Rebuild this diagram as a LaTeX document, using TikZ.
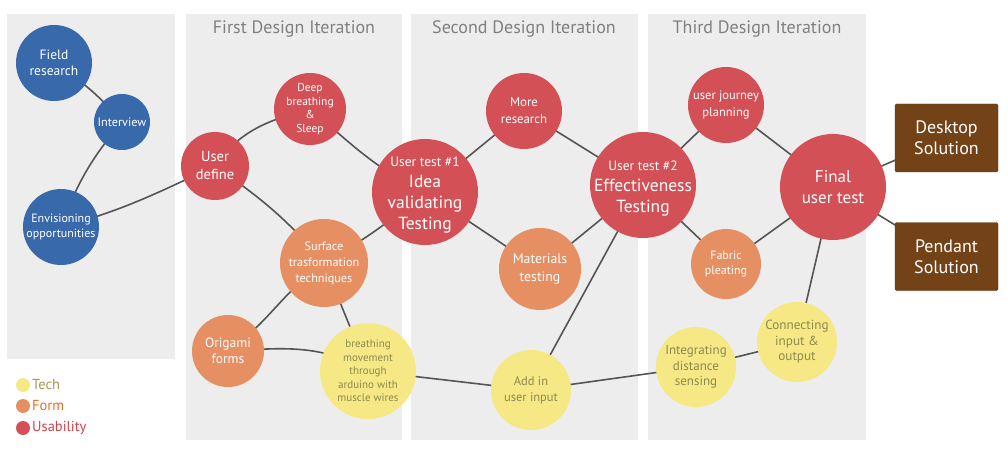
\documentclass[tikz,border=0pt]{standalone}
\usepackage{fontspec}
\setmainfont{PT Sans}
\definecolor{panel}{HTML}{ECEDEC}
\definecolor{cblue}{HTML}{3869AB}
\definecolor{cred}{HTML}{D35156}
\definecolor{corange}{HTML}{E68F63}
\definecolor{cyellow}{HTML}{F6E884}
\definecolor{cbrown}{HTML}{744217}
\definecolor{cline}{HTML}{555555}
\definecolor{ytext}{HTML}{8C8A4E}
\definecolor{ttitle}{HTML}{7F8080}
\definecolor{ltech}{HTML}{A09A55}
\definecolor{lform}{HTML}{EC6A2E}
\definecolor{lusab}{HTML}{D4414A}
\pgfdeclarelayer{bg}
\pgfdeclarelayer{lines}
\pgfsetlayers{bg,lines,main}
\begin{document}
\begin{tikzpicture}[x=1pt,y=1pt,
  bub/.style={circle,inner sep=0pt,align=center,text=white,minimum size=#1},
  blue/.style={bub=#1,fill=cblue},
  red/.style={bub=#1,fill=cred},
  orange/.style={bub=#1,fill=corange},
  yellow/.style={bub=#1,fill=cyellow,text=ytext},
  bigtxt/.style={inner sep=0pt,align=center,text=white,font=\fontsize{17.5}{21}\selectfont},
  sol/.style={rectangle,fill=cbrown,draw=cbrown!80!black,line width=0.4pt,rounded corners=1.5pt,minimum width=103pt,minimum height=68pt,text=white,align=center,font=\fontsize{18}{21}\selectfont},
  link/.style={draw=cline,line width=1.6pt},
  ptitle/.style={text=ttitle,font=\fontsize{18}{20}\selectfont},
  legdot/.style={circle,inner sep=0pt,minimum size=14pt},
  legtxt/.style={anchor=west,inner sep=0pt,font=\fontsize{14.5}{16}\selectfont}
]
\useasboundingbox (0,0) rectangle (1008,453);
\begin{pgfonlayer}{bg}
\fill[panel] (7,94) rectangle (175,439);
\fill[panel] (186,13) rectangle (402,439);
\fill[panel] (411,13) rectangle (638,439);
\fill[panel] (648,13) rectangle (866,439);
\end{pgfonlayer}
\node[ptitle] (t1) at (294,424) {First Design Iteration};
\node[ptitle] (t2) at (524,424) {Second Design Iteration};
\node[ptitle] (t3) at (757,424) {Third Design Iteration};

\node[blue=76pt,font=\fontsize{13.5}{16}\selectfont] (fr) at (54,390) {Field\\research};
\node[blue=56pt,font=\fontsize{12.2}{13}\selectfont] (iv) at (122,331) {Interview};
\node[blue=76pt,font=\fontsize{12}{15}\selectfont] (env) at (61,226) {Envisioning\\opportunities};
\node[red=68pt,font=\fontsize{14.5}{18}\selectfont] (ud) at (215,287) {User\\define};
\node[red=72pt,font=\fontsize{11.5}{13.7}\selectfont] (deep) at (310,344) {Deep\\breathing\\\&\\Sleep};
\node[orange=88pt,font=\fontsize{12.2}{16}\selectfont] (surf) at (324,190) {Surface\\trasformation\\techniques};
\node[orange=72pt,font=\fontsize{13.5}{16}\selectfont] (ori) at (228,102) {Origami\\forms};
\node[yellow=96pt,font=\fontsize{11}{13.5}\selectfont] (bm) at (368,82) {breathing\\movement\\through\\arduino with\\muscle wires};
\node[red=106pt] (ut1) at (425,261) {};
\node[bigtxt] (ut1t) at ([yshift=-3pt]ut1.center) {{\fontsize{13.5}{15}\selectfont User test \#1}\\Idea\\validating\\Testing};
\node[red=76pt,font=\fontsize{12.8}{17}\selectfont] (more) at (524,342) {More\\research};
\node[orange=82pt,font=\fontsize{13.8}{18}\selectfont] (mat) at (540,184) {Materials\\testing};
\node[yellow=80pt,font=\fontsize{12.5}{16}\selectfont] (add) at (531,63) {Add in\\user input};
\node[red=106pt] (ut2) at (643,268) {};
\node[bigtxt] (ut2t) at ([yshift=-4pt]ut2.center) {{\fontsize{13.5}{15}\selectfont User test \#2}\\Effectiveness\\Testing};
\node[red=76pt,font=\fontsize{12.5}{17}\selectfont] (uj) at (726,348) {user journey\\planning};
\node[orange=70pt,font=\fontsize{12}{15}\selectfont] (fab) at (726,189) {Fabric\\pleating};
\node[red=106pt,font=\fontsize{17}{21}\selectfont] (fin) at (833,266) {Final\\user test};
\node[yellow=80pt,font=\fontsize{13}{15.5}\selectfont] (int) at (696,86) {Integrating\\distance\\sensing};
\node[yellow=80pt,font=\fontsize{13.2}{15.5}\selectfont] (con) at (797,111) {Connecting\\input \&\\output};
\node[sol] (desk) at (946.5,315) {Desktop\\Solution};
\node[sol] (pend) at (946.5,196.5) {Pendant\\Solution};

\node[legdot,fill=cyellow] (lt) at (23,68) {};
\node[legdot,fill=corange] (lf) at (23,47) {};
\node[legdot,fill=cred] (lu) at (23,25) {};
\node[legtxt,text=ltech] (ltt) at (32,68) {Tech};
\node[legtxt,text=lform] (lft) at (32,47) {Form};
\node[legtxt,text=lusab] (lut) at (32,25) {Usability};

\begin{pgfonlayer}{lines}
\draw[link] (fr.center) to[bend left=8] (iv.center);
\draw[link] (iv.center) to[bend right=10] (env.center);
\draw[link] (env.center) to[out=15,in=205] (ud.center);
\draw[link] (ud.center) to[out=55,in=195] (deep.center);
\draw[link] (ud.center) to[out=-35,in=130] (surf.center);
\draw[link] (deep.center) to[out=-40,in=155] (ut1.center);
\draw[link] (surf.center) to[bend right=5] (ut1.center);
\draw[link] (surf.center) to[out=215,in=35] (ori.center);
\draw[link] (surf.center) -- (bm.center);
\draw[link] (ori.center) to[out=3,in=150] (bm.center);
\draw[link] (bm.center) -- (add.center);
\draw[link] (ut1.center) -- (more.center);
\draw[link] (ut1.center) -- (mat.center);
\draw[link] (more.center) -- (ut2.center);
\draw[link] (mat.center) -- (ut2.center);
\draw[link] (add.center) -- (ut2.center);
\draw[link] (add.center) -- (int.center);
\draw[link] (ut2.center) -- (uj.center);
\draw[link] (ut2.center) -- (fab.center);
\draw[link] (uj.center) -- (fin.center);
\draw[link] (fab.center) -- (fin.center);
\draw[link] (int.center) -- (con.center);
\draw[link] (con.center) -- (fin.center);
\draw[link] (fin.center) -- (desk.center);
\draw[link] (fin.center) -- (pend.center);
\end{pgfonlayer}
\end{tikzpicture}
\end{document}
